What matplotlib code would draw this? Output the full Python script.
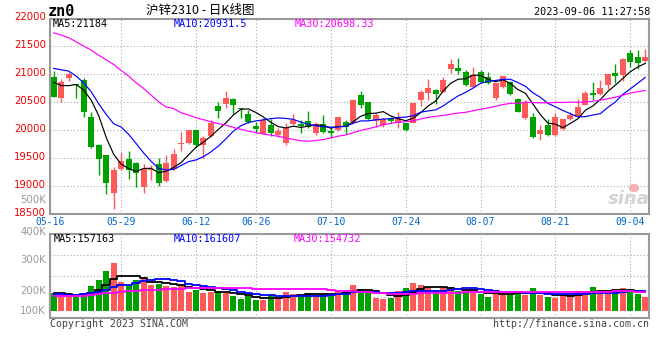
import matplotlib.pyplot as plt
import matplotlib.transforms as mtransforms
from matplotlib.patches import Ellipse
import pandas as pd

# SHFE zinc 2310 daily bars, 2023-05-16 .. 2023-09-06 (80 trading days)
opens = [20960, 20583, 20930, 20820, 20895, 20240, 19730, 19555, 18877, 19305,
         19485, 19420, 18980, 19290, 19405, 19100, 19313, 19750, 19782, 19998,
         19745, 19900, 20440, 20475, 20565, 20385, 20295, 20080, 19937, 20098,
         19920, 19783, 20118, 20118, 20168, 19960, 20118, 19990, 20013, 20157,
         20150, 20632, 20508, 20162, 20088, 20228, 20124, 20124, 20132, 20535,
         20660, 20714, 20691, 21101, 21119, 21048, 20780, 21048, 20952, 20583,
         20780, 20869, 20566, 20226, 20244, 19929, 20089, 19911, 20030, 20197,
         20244, 20453, 20667, 20655, 20804, 21030, 20988, 21387, 21316, 21238]
highs = [21062, 20911, 21040, 20830, 20940, 20330, 19760, 19560, 19340, 19615,
         19630, 19430, 19400, 19390, 19505, 19560, 19664, 19970, 20000, 20030,
         19900, 20190, 20500, 20710, 20570, 20390, 20366, 20158, 20217, 20200,
         20039, 20140, 20296, 20187, 20350, 20158, 20276, 20060, 20246, 20187,
         20565, 20710, 20510, 20312, 20217, 20247, 20332, 20128, 20497, 20718,
         20921, 20732, 20952, 21280, 21298, 21077, 21137, 21077, 21048, 20839,
         20970, 20875, 20570, 20536, 20316, 20089, 20209, 20304, 20197, 20328,
         20566, 20703, 20863, 20899, 21000, 21179, 21298, 21435, 21435, 21458]
lows = [20600, 20512, 20875, 20585, 20240, 19690, 19195, 18860, 18600, 19295,
        19125, 18988, 18876, 19110, 19007, 19075, 19295, 19630, 19760, 19680,
        19515, 19890, 20230, 20400, 20300, 20220, 20128, 19961, 19935, 19902,
        19890, 19741, 20098, 19948, 20039, 19918, 19961, 19872, 19997, 19933,
        20128, 20395, 20187, 20068, 20069, 20128, 20038, 19984, 20128, 20430,
        20540, 20476, 20685, 21030, 21012, 20800, 20775, 20839, 20833, 20536,
        20762, 20625, 20330, 20197, 19869, 19822, 19899, 19905, 20000, 20179,
        20240, 20450, 20536, 20625, 20732, 20851, 20881, 21131, 21089, 21220]
closes = [20603, 20869, 21010, 20805, 20320, 19700, 19490, 19060, 19293, 19448,
          19293, 19244, 19317, 19312, 19055, 19418, 19580, 19755, 19998, 19745,
          19870, 20125, 20355, 20585, 20445, 20378, 20158, 20033, 20187, 19961,
          19997, 20039, 20189, 20082, 20065, 20118, 19978, 19954, 20240, 20058,
          20550, 20460, 20198, 20272, 20198, 20162, 20222, 20008, 20495, 20692,
          20763, 20655, 20905, 21190, 21059, 20804, 20988, 20869, 20851, 20839,
          20970, 20655, 20334, 20512, 19887, 20006, 19911, 20244, 20197, 20268,
          20417, 20673, 20631, 20762, 21000, 20970, 21280, 21226, 21196, 21316]
volumes = [152500, 147500, 144600, 147500, 153500, 174300, 192100, 218800, 243600, 186100,
           177200, 192100, 198000, 177200, 180200, 174300, 171300, 180200, 156400, 162400,
           153500, 156400, 159400, 153500, 144600, 135600, 144600, 132700, 132700, 147500,
           138600, 156400, 150500, 147500, 153500, 147500, 150500, 147500, 159400, 159400,
           177200, 165300, 152500, 139600, 135600, 139600, 159400, 168300, 183200, 177200,
           171300, 162400, 168300, 168300, 159400, 156400, 153500, 150500, 141600, 162400,
           150500, 147500, 159400, 147500, 168300, 147500, 141600, 139600, 147500, 147500,
           159400, 159400, 171300, 156400, 156400, 162400, 168300, 162400, 150500, 141600]

# averages at the start of the window, where the earlier bars are not on the chart
ma5_lead = [20860, 20800, 20800, 20820]
ma10_lead = [21107, 21083, 21060, 20970, 20851, 20691, 20476, 20286, 20119]
ma30_lead = [21744, 21703, 21655, 21584, 21506, 21435, 21345, 21262, 21179, 21072,
             20970, 20851, 20750, 20631, 20512, 20417, 20393, 20316, 20274, 20226,
             20191, 20155, 20119, 20095, 20050, 20020, 19985, 19960, 19935]
vma5_lead = [154500, 152500, 150500, 147500]
vma10_lead = [149500, 149500, 148500, 147500, 150500, 154500, 157400, 162400, 170300]
vma30_lead = [145500, 145500, 145500, 145500, 145500, 147500, 151500, 152500, 153500, 157400,
              158400, 159400, 161400, 162400, 163400, 164400, 165300, 166300, 167300, 167300,
              167300, 167300, 167300, 167300, 167300, 167300, 167000, 166800, 166500]

tick_index = [0, 9, 19, 27, 37, 47, 57, 67, 77]
tick_labels = ["05-16", "05-29", "06-12", "06-26", "07-10", "07-24", "08-07", "08-21", "09-04"]
price_ticks = [18500, 19000, 19500, 20000, 20500, 21000, 21500, 22000]
vol_labels = ["500K", "400K", "300K", "200K", "100K"]
price_ma_text = ["MA5:21184", "MA10:20931.5", "MA30:20698.33"]
vol_ma_text = ["MA5:157163", "MA10:161607", "MA30:154732"]

RED = "#ff5a5a"
GREEN = "#00a000"
MA_COLORS = ["black", "#0000ff", "#ff00ff"]
MONO = "DejaVu Sans Mono"
W, H = 660, 360


def moving_average(values, window, lead):
    ma = pd.Series(values, dtype=float).rolling(window).mean()
    ma.iloc[: window - 1] = lead
    return ma


def px_axes(fig, left, top, right, bottom):
    return fig.add_axes([left / W, 1 - bottom / H, (right - left) / W, (bottom - top) / H])


def style_panel(ax):
    for s in ax.spines.values():
        s.set_color("#999999")
        s.set_linewidth(1.5)
    ax.grid(True, color="#aaaaaa", linestyle=(0, (1, 2)), linewidth=0.8)
    ax.set_axisbelow(True)
    ax.tick_params(length=0)


fig = plt.figure(figsize=(W / 100, H / 100), dpi=100)
x = list(range(len(closes)))
colors = [RED if c >= o else GREEN for o, c in zip(opens, closes)]

# price panel
ax = px_axes(fig, 50, 18.5, 649, 214.3)
style_panel(ax)
ax.vlines(x, lows, highs, colors=colors, linewidth=1, zorder=2)
bodies = [max(abs(c - o), 18) for o, c in zip(opens, closes)]
ax.bar(x, bodies, bottom=[min(o, c) for o, c in zip(opens, closes)],
       width=0.8, color=colors, linewidth=0, zorder=3)
for window, lead, col in zip([5, 10, 30], [ma5_lead, ma10_lead, ma30_lead], MA_COLORS):
    ax.plot(x, moving_average(closes, window, lead), color=col, linewidth=0.85, zorder=4)
ax.set_xlim(-0.5, len(x) - 0.5)
ax.set_ylim(price_ticks[0], price_ticks[-1])
ax.set_yticks(price_ticks)
ax.set_yticklabels([str(t) for t in price_ticks])
ax.tick_params(axis="y", pad=3, labelcolor="#ee0000", labelsize=7.3)
shift = mtransforms.ScaledTranslation(0, 0.02, fig.dpi_scale_trans)
for lbl in ax.get_yticklabels():
    lbl.set_transform(lbl.get_transform() + shift)
ax.set_xticks([-0.5 if i == 0 else i for i in tick_index])
ax.set_xticklabels(tick_labels, family=MONO, fontsize=7, color="#0066cc")
ax.tick_params(axis="x", pad=2)
for k, (txt, col) in enumerate(zip(price_ma_text, MA_COLORS)):
    fig.text((53 + 121 * k) / W, 1 - 24 / H, txt, color=col, family=MONO,
             fontsize=7.3, va="center")

# sina watermark
fig.patches.append(Ellipse((634 / W, 1 - 188 / H), 9 / W, 7 / H, color="#f4b4b4",
                           transform=fig.transFigure, figure=fig))
fig.text(650 / W, 1 - 199 / H, "sina", fontsize=13, fontweight="bold", style="italic",
         color="#d4d4d4", ha="right", va="center")

# volume panel
vol_base = 100000
ax2 = px_axes(fig, 50, 234.3, 649, 318.3)
style_panel(ax2)
ax2.bar(x, [v - vol_base for v in volumes], bottom=vol_base, width=0.8,
        color=colors, linewidth=0, zorder=2)
for window, lead, col in zip([5, 10, 30], [vma5_lead, vma10_lead, vma30_lead], MA_COLORS):
    ax2.plot(x, moving_average(volumes, window, lead), color=col, linewidth=1.3,
             drawstyle="steps-mid", zorder=3)
ax2.set_xlim(-0.5, len(x) - 0.5)
ax2.set_ylim(78300, 327800)
ax2.set_xticks(tick_index[1:])
ax2.set_yticks([140700, 203000, 265400])
ax2.set_xticklabels([])
ax2.set_yticklabels([])
for k, (txt, col) in enumerate(zip(vol_ma_text, MA_COLORS)):
    fig.text((54 + 120 * k) / W, 1 - 239 / H, txt, color=col, family=MONO,
             fontsize=7.3, va="center")
for lbl, ypx in zip(vol_labels, [200, 232, 260, 290.5, 311]):
    fig.text(46 / W, 1 - ypx / H, lbl, color="#999999", fontsize=7.3,
             ha="right", va="center")

# header / footer
fig.text(48 / W, 1 - 12 / H, "zn0", family=MONO, fontweight="bold", fontsize=11,
         va="center")
fig.text(200 / W, 1 - 10 / H, "沪锌2310 - 日K线图", family=["Noto Sans CJK SC", "DejaVu Sans"],
         fontsize=9, ha="center", va="center")
fig.text(650 / W, 1 - 12 / H, "2023-09-06 11:27:58", family=MONO, fontsize=7.3,
         ha="right", va="center")
fig.text(50 / W, 1 - 324 / H, "Copyright 2023 SINA.COM", family=MONO, fontsize=7.1,
         color="#444444", va="center")
fig.text(649 / W, 1 - 324 / H, "http://finance.sina.com.cn", family=MONO, fontsize=7.1,
         color="#444444", ha="right", va="center")

fig.savefig("out.png", dpi=100)
plt.close(fig)
